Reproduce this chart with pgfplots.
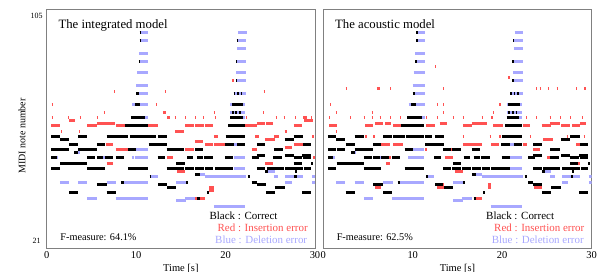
\documentclass[border=0pt]{standalone}
\usepackage{pgfplots}
\pgfplotsset{compat=1.18}
\usepackage{pgfplotstable}
\usepackage{fontspec}
\setmainfont{Liberation Serif}
\definecolor{rred}{RGB}{255,82,82}
\definecolor{bblue}{RGB}{168,168,255}

\pgfplotstableread{
t p d
10.55 99 0.8
21.4 99 0.95
10.55 96 0.8
21.37 96 0.95
21.3 93 1.0
10.3 91 1.05
10.45 88 0.9
21.3 88 1.0
10.1 84 1.25
21.2 84 1.1
21.3 81 1.0
10.0 79 1.35
10.3 76 1.05
20.9 76 1.4
9.55 72 1.8
20.5 72 1.7
20.5 69 1.7
11.0 67 0.35
21.9 67 0.3
20.9 57 0.4
10.0 55 1.3
3.5 54 0.2
1.1 52 0.2
6.3 52 0.2
9.5 52 0.25
9.85 52 1.45
20.9 52 1.3
20.9 48 1.3
24.8 47 0.7
17.1 46 0.6
11.7 45 0.7
17.7 45 4.6
25.4 45 0.5
26.7 45 2.0
29.7 45 0.3
1.46 43 1.0
3.5 43 1.05
6.7 43 1.1
8.5 43 2.8
14.5 43 1.1
26.7 43 0.7
29.7 43 0.3
4.55 37 1.05
7.7 37 3.6
15.5 37 1.1
14.5 36 1.1
18.7 34 3.5
}\bluetab

\pgfplotstableread{
t p d
10.4 99 0.15
10.4 96 0.15
21.25 96 0.12
10.3 88 0.15
21.15 88 0.12
21.15 81 0.12
10.0 76 0.3
20.9 76 0.15
21.3 76 0.15
21.7 76 0.15
9.85 72 0.55
20.7 72 1.3
20.7 69 0.2
21.1 69 0.2
21.5 69 0.2
9.4 67 1.6
20.5 67 1.4
8.7 64 2.6
20.3 64 1.9
0.5 60 0.95
3.5 60 1.0
6.7 60 1.0
7.8 60 1.3
9.3 60 2.0
11.35 60 0.85
12.5 60 1.0
20.0 60 2.2
27.6 60 1.1
1.46 59 1.0
26.6 59 1.0
2.5 57 1.0
5.6 57 0.9
11.4 57 2.1
19.9 57 1.0
21.3 57 0.9
23.5 57 0.9
28.7 57 0.9
0.5 55 0.95
1.5 55 0.95
3.5 55 2.1
9.1 55 0.9
13.4 55 0.9
14.4 55 1.0
16.6 55 0.9
25.4 55 1.05
3.1 54 0.4
23.5 53 0.9
26.6 53 1.0
28.6 53 1.0
0.5 52 0.6
4.55 52 0.85
5.6 52 0.7
6.5 52 0.9
7.7 52 0.9
12.4 52 0.8
15.7 52 0.7
16.8 52 0.7
17.6 52 1.0
19.93 52 0.95
22.9 52 0.8
25.3 52 1.0
27.6 52 1.0
28.7 52 0.9
1.5 50 1.0
2.5 50 1.0
3.5 50 1.05
14.5 50 0.95
27.6 50 0.9
29.6 50 0.2
0.5 48 0.95
4.55 48 1.05
5.6 48 0.9
9.1 48 0.75
9.85 48 1.45
13.4 48 0.9
14.4 48 1.0
15.5 48 1.0
16.6 48 1.0
17.7 48 0.9
18.8 48 1.3
19.93 48 0.95
23.5 48 0.9
24.6 48 0.9
25.5 48 1.0
26.7 48 0.9
27.6 48 1.1
28.8 48 0.8
24.4 47 0.4
27.8 47 0.2
16.6 46 0.5
11.5 45 0.2
22.5 45 0.25
27.7 45 0.25
8.3 43 0.3
15.6 43 0.2
22.9 43 0.6
5.6 42 1.1
12.5 42 0.9
23.5 42 1.0
13.5 41 1.0
25.5 41 1.1
2.5 39 1.0
6.7 39 1.0
17.9 39 0.2
24.5 39 1.0
28.6 39 1.0
16.85 37 0.25
}\blacktab

\pgfplotstableread{
t p d
20.7 81 0.2
7.55 77 0.12
13.2 77 0.12
24.25 77 0.12
0.55 72 0.12
12.2 72 0.12
6.4 69 0.12
13.0 69 0.35
18.7 69 0.1
24.2 69 0.12
0.55 67 0.12
2.4 67 0.12
3.7 67 0.12
5.6 67 0.12
13.5 67 0.3
14.3 67 0.12
15.5 67 0.12
16.6 67 0.12
17.5 67 0.12
18.8 67 0.12
22.3 67 0.12
25.6 67 0.2
26.5 67 0.12
27.8 67 0.12
28.7 67 0.4
29.6 67 0.12
2.5 66 0.7
28.8 66 1.0
5.6 65 2.0
23.5 65 0.9
24.5 65 0.8
0.5 64 1.0
4.55 64 1.05
7.7 64 1.0
11.3 64 1.1
15.5 64 1.0
16.6 64 1.0
17.7 64 0.9
22.2 64 1.3
27.6 64 1.0
1.6 62 0.15
3.6 62 0.15
14.4 62 1.0
26.6 62 0.25
18.7 60 0.5
23.3 60 0.4
25.4 60 0.6
29.7 60 0.2
24.4 59 1.1
16.6 58 0.9
6.6 57 0.8
17.7 57 0.9
18.7 57 1.4
27.6 57 1.1
26.6 56 0.8
7.7 55 1.4
15.5 55 1.0
22.9 55 0.6
13.4 52 0.7
29.8 52 0.2
6.7 50 0.7
24.4 50 0.9
14.6 47 0.85
18.2 41 0.5
18.2 40 0.5
16.6 37 1.1
}\redL

\pgfplotstableread{
t p d
20.7 82 0.2
12.5 86 0.12
2.5 78 0.12
6.0 78 0.3
7.5 78 0.12
13.4 78 0.12
23.8 78 0.12
24.2 78 0.12
25.1 78 0.15
26.1 78 0.12
28.3 78 0.12
29.2 78 0.2
0.75 72 0.12
12.7 72 0.12
13.4 72 0.12
19.7 72 0.12
1.4 69 0.12
5.4 69 0.12
13.4 69 0.12
19.0 69 0.12
0.67 67 0.12
3.0 67 0.12
4.5 67 0.12
5.4 67 0.12
6.3 67 0.12
7.5 67 0.12
8.6 67 0.12
11.5 67 0.12
12.7 67 0.12
14.5 67 0.12
15.6 67 0.12
17.7 67 0.12
18.8 67 0.12
22.7 67 0.12
23.8 67 0.12
25.3 67 0.12
26.5 67 0.12
27.6 67 0.12
28.9 67 0.12
1.4 62 0.12
5.8 65 0.9
6.9 65 0.7
13.0 65 0.8
16.6 65 1.7
25.3 65 1.2
28.7 65 0.7
0.67 64 0.85
4.7 64 0.9
7.8 64 1.5
11.5 64 1.0
15.6 64 1.0
19.0 64 1.1
22.3 64 0.8
24.4 64 1.1
26.6 64 1.0
27.8 64 0.9
4.7 60 0.15
5.6 60 0.15
6.7 60 0.15
8.9 60 0.15
12.7 60 0.15
15.6 60 0.15
18.6 60 0.15
19.7 60 0.15
23.1 60 0.15
27.2 60 0.15
29.1 60 0.15
24.6 59 1.1
6.5 57 1.0
7.8 57 1.1
15.6 57 2.1
18.8 57 0.9
22.3 57 0.5
28.3 57 1.1
11.4 55 0.2
13.8 55 0.9
23.5 55 0.7
6.9 52 0.7
13.6 52 0.9
25.0 52 1.1
28.7 52 0.7
7.0 50 0.5
28.5 50 0.2
14.7 47 0.9
5.8 42 0.7
12.7 42 0.8
18.4 42 0.3
5.8 41 0.7
12.7 41 0.8
18.4 41 0.3
23.6 41 0.8
16.8 37 0.9
}\redR

\pgfplotsset{
  note/.style={quiver={u=\thisrow{d},v=0}, line width=3bp, line cap=butt},
  roll/.style={
    scale only axis, width=268.3bp, height=238.4bp,
    xmin=0, xmax=30, ymin=18.5, ymax=107.5,
    axis line style={black!50},
    xtick={0,10,20,30}, major tick length=0pt,
    /pgf/number format/assume math mode=true,
    xticklabel style={font=\fontsize{10.5}{12}\selectfont},
    clip=true,
  }
}

\begin{document}
\begin{tikzpicture}
\useasboundingbox (-46.7bp,-24.3bp) rectangle (551.3bp,247.7bp);
\begin{axis}[roll, at={(0,0)}, anchor=south west,
  ytick={21,105},
  yticklabel style={font=\fontsize{8}{9}\selectfont, anchor=center, xshift=-10bp},
  xlabel={Time [s]},
  xlabel style={font=\fontsize{10.5}{12}\selectfont, at={(rel axis cs:0.5,0)}, anchor=center, yshift=-20.5bp},
  ylabel={MIDI note number},
  ylabel style={font=\fontsize{10}{12}\selectfont, at={(rel axis cs:-0.092,0.468)}, anchor=center, rotate=0},
]
\addplot[note, draw=bblue] table[x=t,y=p] {\bluetab};
\addplot[note, draw=rred] table[x=t,y=p] {\redL};
\addplot[note, draw=black] table[x=t,y=p] {\blacktab};
\node[anchor=base west, font=\fontsize{12.8}{15}\selectfont] at (rel axis cs:0.031,0.920) {The integrated model};
\node[anchor=base west, font=\fontsize{11}{13}\selectfont] at (rel axis cs:0.594,0.118) {Black : Correct};
\node[anchor=base west, font=\fontsize{11}{13}\selectfont, text=rred] at (rel axis cs:0.624,0.067) {Red : Insertion error};
\node[anchor=base west, font=\fontsize{11}{13}\selectfont, text=bblue] at (rel axis cs:0.615,0.017) {Blue : Deletion error};
\node[anchor=base west, font=\fontsize{10.3}{12}\selectfont] at (rel axis cs:0.038,0.032) {F-measure: 64.1\%};
\end{axis}
\begin{axis}[roll, at={(276.6bp,0)}, anchor=south west,
  ytick=\empty,
  xlabel={Time [s]},
  xlabel style={font=\fontsize{10.5}{12}\selectfont, at={(rel axis cs:0.5,0)}, anchor=center, yshift=-20.5bp},
]
\addplot[note, draw=bblue] table[x=t,y=p] {\bluetab};
\addplot[note, draw=rred] table[x=t,y=p] {\redR};
\addplot[note, draw=black] table[x=t,y=p] {\blacktab};
\node[anchor=base west, font=\fontsize{12.8}{15}\selectfont] at (rel axis cs:0.031,0.920) {The acoustic model};
\node[anchor=base west, font=\fontsize{11}{13}\selectfont] at (rel axis cs:0.594,0.118) {Black : Correct};
\node[anchor=base west, font=\fontsize{11}{13}\selectfont, text=rred] at (rel axis cs:0.624,0.067) {Red : Insertion error};
\node[anchor=base west, font=\fontsize{11}{13}\selectfont, text=bblue] at (rel axis cs:0.615,0.017) {Blue : Deletion error};
\node[anchor=base west, font=\fontsize{10.3}{12}\selectfont] at (rel axis cs:0.037,0.032) {F-measure: 62.5\%};
\end{axis}
\end{tikzpicture}
\end{document}
